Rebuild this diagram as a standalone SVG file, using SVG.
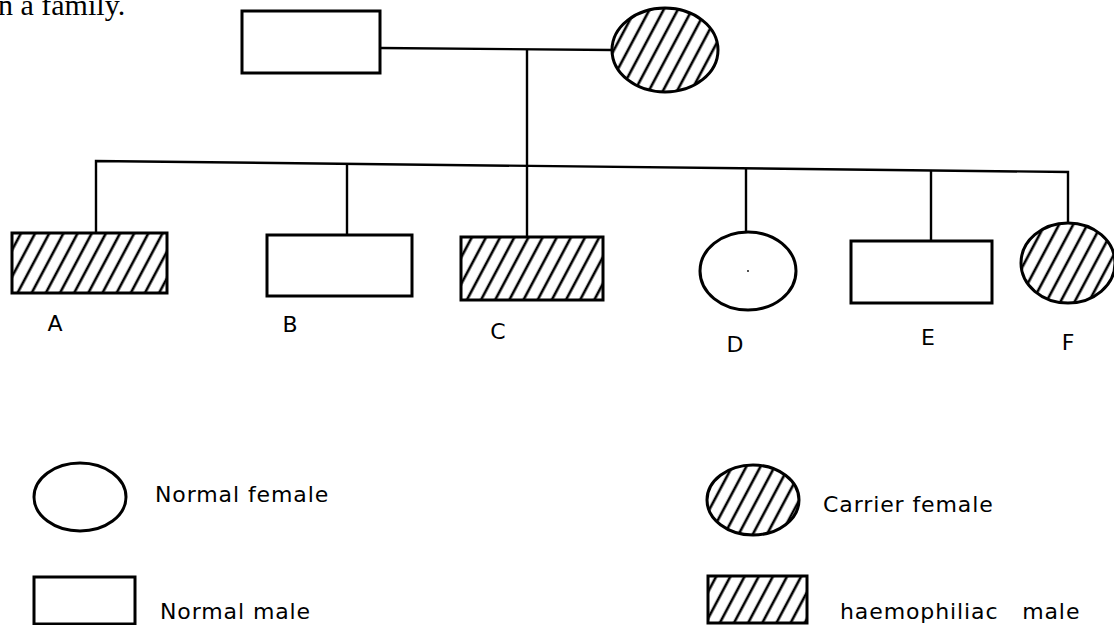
<svg xmlns="http://www.w3.org/2000/svg" width="1114" height="625" viewBox="0 0 1114 625">
<defs>
<pattern id="hatch" width="12.5" height="12" patternUnits="userSpaceOnUse" patternTransform="rotate(28)">
<line x1="3" y1="-2" x2="3" y2="14" stroke="#000" stroke-width="2.6"/>
</pattern>
<style>
.shape{fill:#fff;stroke:#000;stroke-width:3}
.hat{fill:url(#hatch);stroke:#000;stroke-width:3}
.conn line,.conn polyline{stroke:#000;stroke-width:2.4;fill:none}
.lbl{font-family:"DejaVu Sans",Verdana,sans-serif;font-size:22px;fill:#000}
.leg{font-family:"DejaVu Sans",Verdana,sans-serif;font-size:22px;letter-spacing:0.9px;fill:#000}
.top{font-family:"Liberation Serif","Times New Roman",serif;font-size:30px;fill:#000}
</style>
</defs>
<rect width="1114" height="625" fill="#fff"/>
<text class="top" x="-2" y="15">n a family.</text>
<g class="conn">
<line x1="380" y1="48" x2="612" y2="50"/>
<line x1="527" y1="49" x2="527" y2="167"/>
<polyline points="96,233 96,161 1068,172 1068,223"/>
<line x1="347" y1="165" x2="347" y2="235"/>
<line x1="527" y1="167" x2="527" y2="237"/>
<line x1="746" y1="169" x2="746" y2="232"/>
<line x1="931" y1="171" x2="931" y2="241"/>
</g>
<g id="father"><rect class="shape" x="242" y="11" width="138" height="62"/></g>
<g id="mother"><ellipse class="hat" cx="665" cy="50" rx="53" ry="42"/></g>
<g id="A"><rect class="hat" x="12" y="233" width="155" height="60"/><text class="lbl" x="55" y="331" text-anchor="middle">A</text></g>
<g id="B"><rect class="shape" x="267" y="235" width="145" height="61"/><text class="lbl" x="290" y="332" text-anchor="middle">B</text></g>
<g id="C"><rect class="hat" x="461" y="237" width="142" height="63"/><text class="lbl" x="498" y="339" text-anchor="middle">C</text></g>
<g id="D"><ellipse class="shape" cx="748" cy="271" rx="48" ry="39"/><circle cx="748" cy="271" r="0.9" fill="#000"/><text class="lbl" x="735" y="352" text-anchor="middle">D</text></g>
<g id="E"><rect class="shape" x="851" y="241" width="141" height="62"/><text class="lbl" x="928" y="345" text-anchor="middle">E</text></g>
<g id="F"><ellipse class="hat" cx="1068" cy="263" rx="47" ry="40"/><text class="lbl" x="1068" y="350" text-anchor="middle">F</text></g>
<g id="legend-normal-female"><ellipse class="shape" cx="80" cy="497" rx="46" ry="34"/><text class="leg" x="155" y="502">Normal female</text></g>
<g id="legend-carrier-female"><ellipse class="hat" cx="753" cy="500" rx="46" ry="35"/><text class="leg" x="823" y="512">Carrier female</text></g>
<g id="legend-normal-male"><rect class="shape" x="34" y="577" width="101" height="47"/><text class="leg" x="160" y="619">Normal male</text></g>
<g id="legend-haemophiliac-male"><rect class="hat" x="708" y="576" width="99" height="47"/><text class="leg" x="840" y="619" xml:space="preserve">haemophiliac   male</text></g>
</svg>
